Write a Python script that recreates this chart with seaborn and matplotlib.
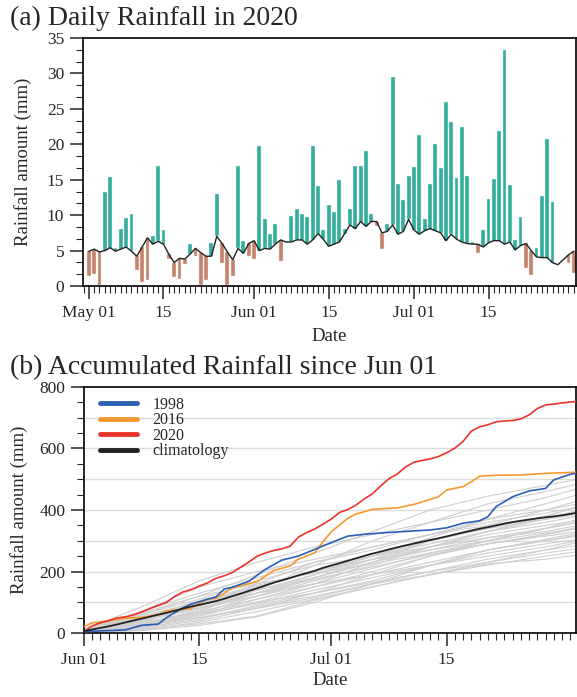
import numpy as np
import pandas as pd
import matplotlib
matplotlib.use('Agg')
import matplotlib.pyplot as plt
import seaborn as sns
from matplotlib.lines import Line2D
from matplotlib.ticker import MultipleLocator, AutoMinorLocator

# ---- (a) daily rainfall, May 01 .. Jul 31 2020 (mm) ----
rain_2020 = [1.4, 1.7, 0.1, 13.2, 15.4, 5.3, 8.1, 9.6, 10.1, 2.2,
             0.5, 0.8, 7.0, 17.0, 7.9, 3.8, 1.2, 1.0, 3.1, 5.9,
             4.2, 0.2, 0.8, 6.0, 13.0, 3.3, 0.2, 1.4, 16.9, 6.3,
             4.3, 3.8, 19.7, 9.4, 7.3, 8.7, 3.5, 6.3, 9.9, 10.9,
             10.2, 9.8, 19.7, 14.1, 7.9, 11.4, 10.4, 14.9, 8.0, 10.8,
             17.0, 17.0, 19.1, 10.1, 8.4, 5.2, 8.7, 29.5, 14.4, 12.2,
             15.5, 16.8, 21.3, 9.5, 14.4, 20.1, 16.7, 25.9, 23.1, 15.3,
             22.5, 15.5, 6.2, 4.7, 7.9, 12.3, 15.1, 21.9, 33.3, 14.2,
             6.5, 9.7, 2.6, 1.6, 5.4, 12.7, 20.7, 11.8, 2.9, 3.6,
             3.3, 1.8]
clim_daily = [4.9, 5.2, 4.8, 5.0, 5.4, 4.9, 5.2, 5.5, 4.9, 4.2,
              5.5, 6.8, 5.9, 6.3, 5.9, 4.5, 3.3, 3.9, 3.8, 4.5,
              5.3, 4.7, 4.2, 4.2, 7.0, 6.0, 4.8, 3.7, 5.3, 4.6,
              6.0, 6.4, 5.0, 5.3, 5.2, 5.9, 6.5, 6.2, 6.2, 6.5,
              6.5, 5.9, 6.5, 7.4, 6.6, 5.6, 5.9, 6.2, 7.4, 8.6,
              8.1, 9.1, 8.4, 9.1, 9.1, 7.5, 7.7, 8.6, 7.3, 7.7,
              9.4, 7.9, 7.3, 7.8, 8.1, 7.8, 7.5, 6.4, 7.3, 6.6,
              6.2, 6.0, 5.9, 5.9, 5.5, 6.1, 6.4, 6.4, 5.9, 6.2,
              5.1, 5.7, 6.0, 5.0, 4.1, 4.0, 4.0, 3.3, 3.0, 3.7,
              4.4, 4.9]
top_ticks = [0, 14, 31, 45, 61, 75]
top_ticklabels = ['May 01', '15', 'Jun 01', '15', 'Jul 01', '15']
jun01_index = 31

# ---- (b) accumulated rainfall since Jun 01 (mm) ----
t1998 = [0, 2, 5, 7, 9, 10, 12, 13, 15, 16, 17, 18, 20, 22, 24, 26, 28, 30,
         32, 34, 37, 40, 42, 44, 46, 48, 49, 50, 52, 54, 56, 57, 59, 60]
acc1998 = [4, 7, 10, 25, 29, 50, 82, 94, 110, 117, 143, 149, 168, 207, 237, 250,
           272, 294, 315, 321, 327, 332, 335, 342, 357, 365, 378, 411, 443, 462,
           470, 498, 516, 521]
t2016 = [0, 1, 3, 5, 7, 9, 10, 12, 13, 14, 15, 16, 17, 18, 20, 21, 23, 25, 26,
         28, 29, 30, 32, 33, 35, 38, 40, 41, 43, 44, 46, 47, 48, 50, 53, 56, 60]
acc2016 = [21, 33, 40, 48, 51, 59, 72, 77, 80, 97, 110, 113, 129, 147, 160, 167,
           203, 218, 240, 261, 297, 329, 373, 387, 402, 407, 418, 426, 443, 465,
           476, 492, 510, 513, 514, 519, 523]
grey_t = [0, 7, 14, 21, 28, 35, 42, 49, 56, 60]
grey_years = [
    [5, 60, 120, 190, 260, 330, 400, 445, 480, 500],
    [12, 85, 170, 230, 280, 320, 360, 400, 440, 470],
    [3, 30, 70, 140, 220, 300, 360, 420, 460, 485],
    [8, 50, 100, 150, 200, 250, 310, 370, 420, 450],
    [2, 20, 60, 110, 160, 230, 300, 350, 400, 430],
    [15, 70, 130, 180, 230, 270, 320, 370, 400, 420],
    [6, 40, 80, 130, 190, 250, 290, 330, 380, 410],
    [4, 35, 90, 160, 230, 280, 320, 350, 370, 390],
    [10, 55, 100, 140, 180, 230, 280, 330, 360, 380],
    [1, 15, 40, 80, 130, 190, 250, 300, 340, 370],
    [7, 45, 95, 150, 200, 240, 270, 300, 340, 360],
    [9, 60, 110, 170, 220, 250, 280, 310, 330, 350],
    [3, 25, 55, 100, 150, 200, 250, 290, 320, 345],
    [5, 40, 85, 120, 160, 210, 260, 300, 325, 340],
    [11, 65, 120, 160, 195, 225, 260, 290, 315, 330],
    [2, 18, 45, 90, 130, 170, 220, 270, 305, 325],
    [6, 30, 70, 110, 150, 190, 230, 270, 300, 315],
    [4, 28, 60, 95, 140, 180, 220, 260, 290, 305],
    [8, 50, 90, 130, 160, 190, 220, 250, 280, 300],
    [1, 10, 35, 70, 110, 150, 190, 230, 270, 295],
    [3, 22, 50, 85, 120, 160, 200, 240, 270, 285],
    [5, 35, 65, 100, 130, 165, 200, 230, 260, 275],
    [2, 12, 30, 55, 107, 150, 190, 221, 250, 265],
    [4, 25, 50, 80, 115, 160, 189, 225, 240, 254],
    [9, 45, 80, 120, 170, 220, 280, 330, 370, 400],
    [3, 30, 75, 130, 180, 240, 300, 340, 370, 385],
    [7, 50, 105, 155, 200, 250, 300, 340, 380, 410],
    [2, 25, 65, 120, 180, 230, 270, 310, 340, 360],
    [6, 45, 90, 140, 190, 240, 280, 320, 350, 365],
    [1, 8, 25, 53, 100, 160, 220, 270, 300, 320],
    [10, 70, 150, 200, 240, 280, 320, 360, 390, 410],
    [4, 38, 82, 130, 175, 215, 255, 290, 320, 340],
]
bottom_ticks = [0, 14, 30, 44]
bottom_ticklabels = ['Jun 01', '15', 'Jul 01', '15']

TEAL = '#33ad9d'
BROWN = '#c7806a'
BLUE = '#2b5fb4'
ORANGE = '#f7992f'
RED = '#e8352c'

sns.set_style("ticks")
plt.rcParams['font.family'] = ['Liberation Serif', 'DejaVu Serif']
plt.rcParams['axes.linewidth'] = 1.2

fig = plt.figure(figsize=(5.77, 6.97), dpi=100)
ax1 = fig.add_axes([0.1438, 0.5897, 0.8544, 0.3558])
ax2 = fig.add_axes([0.1456, 0.0918, 0.8527, 0.353])

# ---------- panel (a) ----------
daily = pd.DataFrame({'day': np.arange(len(rain_2020)),
                      'rain': rain_2020, 'clim': clim_daily})
daily['low'] = daily[['rain', 'clim']].min(axis=1)
daily['diff'] = (daily['rain'] - daily['clim']).abs()
daily['color'] = np.where(daily['rain'] >= daily['clim'], TEAL, BROWN)

ax1.bar(daily['day'], daily['diff'], bottom=daily['low'], width=0.72,
        color=daily['color'], edgecolor='#e8f4f1', linewidth=0.3, zorder=2)
sns.lineplot(data=daily, x='day', y='clim', ax=ax1, color='#222222',
             linewidth=1.0, zorder=3)

ax1.set_xlim(-1.1, 91.4)
ax1.set_ylim(0, 35)
ax1.set_xticks(top_ticks)
ax1.set_xticklabels(top_ticklabels)
ax1.xaxis.set_minor_locator(MultipleLocator(1))
ax1.yaxis.set_major_locator(MultipleLocator(5))
ax1.yaxis.set_minor_locator(AutoMinorLocator(3))
ax1.set_xlabel('Date', fontsize=13.5, labelpad=5)
ax1.set_ylabel('Rainfall amount (mm)', fontsize=13.5, labelpad=11)

# ---------- panel (b) ----------
grey_long = pd.DataFrame([
    {'year': i, 't': t, 'acc': v}
    for i, vals in enumerate(grey_years) for t, v in zip(grey_t, vals)
])
sns.lineplot(data=grey_long, x='t', y='acc', units='year', estimator=None,
             ax=ax2, color='#cfcfcf', linewidth=0.8, zorder=2)

acc2020 = np.cumsum(rain_2020[jun01_index:])
accclim = np.cumsum(clim_daily[jun01_index:])
t_all = np.arange(len(acc2020))

sns.lineplot(x=t2016, y=acc2016, ax=ax2, color=ORANGE, linewidth=1.2, zorder=4)
sns.lineplot(x=t1998, y=acc1998, ax=ax2, color=BLUE, linewidth=1.2, zorder=4)
sns.lineplot(x=t_all, y=acc2020, ax=ax2, color=RED, linewidth=1.2, zorder=5)
sns.lineplot(x=t_all, y=accclim, ax=ax2, color='#222222', linewidth=1.3, zorder=5)

for y in range(100, 800, 100):
    ax2.axhline(y, color='#dcdcdc', linewidth=1.0, zorder=1)

ax2.set_xlim(0, 59.7)
ax2.set_ylim(0, 800)
ax2.set_xticks(bottom_ticks)
ax2.set_xticklabels(bottom_ticklabels)
ax2.xaxis.set_minor_locator(MultipleLocator(1))
ax2.yaxis.set_major_locator(MultipleLocator(200))
ax2.yaxis.set_minor_locator(MultipleLocator(50))
ax2.set_xlabel('Date', fontsize=13.5, labelpad=3)
ax2.set_ylabel('Rainfall amount (mm)', fontsize=13.5, labelpad=8)

handles = [Line2D([], [], color=c, lw=3.5)
           for c in (BLUE, ORANGE, RED, '#222222')]
ax2.legend(handles, ['1998', '2016', '2020', 'climatology'], loc='upper left',
           frameon=False, fontsize=11.5, handlelength=2.3, handletextpad=0.95,
           labelspacing=-0.04, borderaxespad=0.0, bbox_to_anchor=(0.02, 0.985))

for ax in (ax1, ax2):
    ax.tick_params(which='major', direction='out', length=9.5, width=1.1,
                   labelsize=12.5, pad=4, top=False, right=False)
    ax.tick_params(which='minor', direction='out', length=5, width=0.8,
                   top=False, right=False)
    for s in ax.spines.values():
        s.set_visible(True)
        s.set_color('black')
    ax.set_facecolor('white')

fig.text(10 / 577, 1 - 18 / 697, '(a) Daily Rainfall in 2020',
         fontsize=20, ha='left', va='center')
fig.text(10 / 577, 1 - 368 / 697, '(b) Accumulated Rainfall since Jun 01',
         fontsize=20, ha='left', va='center')

fig.savefig('out.png', dpi=100)
